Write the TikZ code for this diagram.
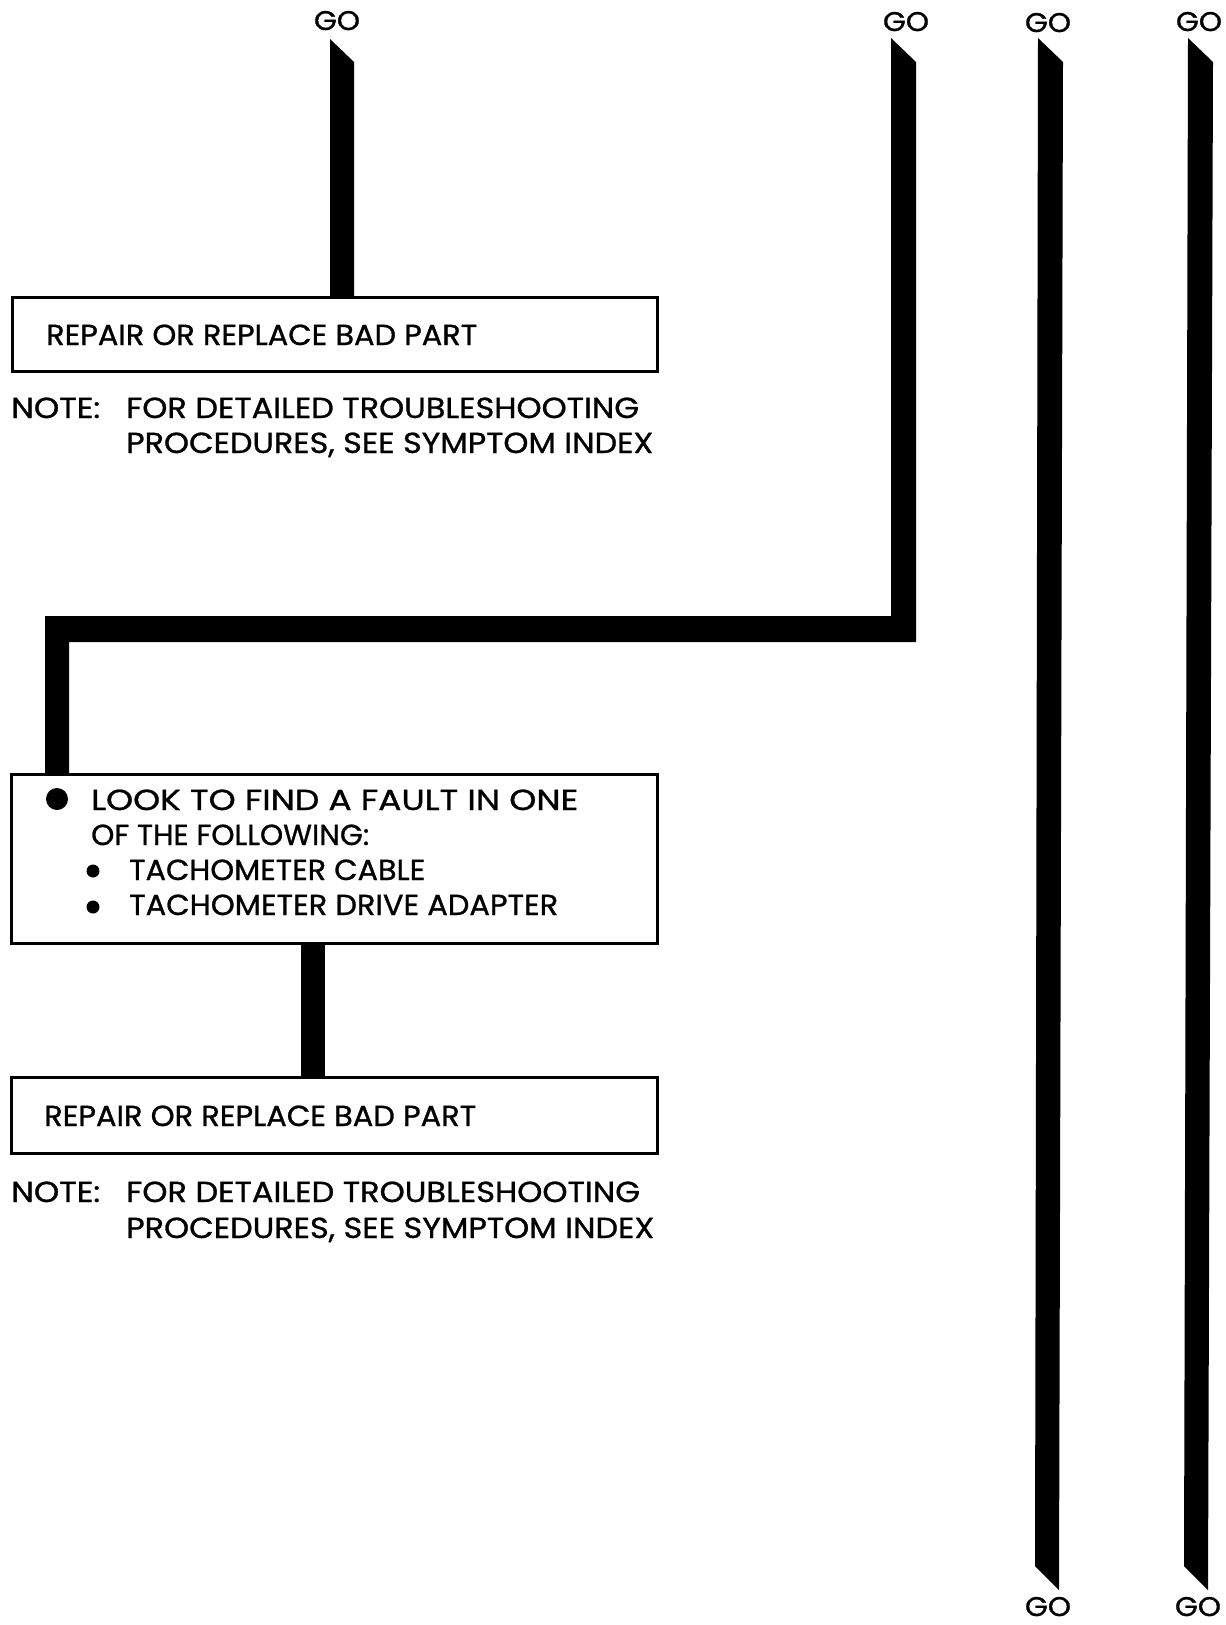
\documentclass[tikz,border=0pt]{standalone}
\usepackage{graphicx}
\usepackage{fontspec}
\setmainfont{Poppins}[FakeBold=0.9]
\newcommand{\fitw}[2]{\resizebox{#1}{\height}{#2}}
\begin{document}
\begin{tikzpicture}[x=1pt,y=-1pt,
  box/.style={draw, line width=2.8pt, inner sep=0pt, anchor=north west},
  txt/.style={anchor=base west, inner sep=0pt, font=\fontsize{29}{31}\selectfont},
  golab/.style={anchor=base, inner sep=0pt, font=\fontsize{27}{29}\selectfont},
  bar/.style={fill=black}]
\useasboundingbox (0,0) rectangle (1226,1625);
% GO labels
\node[golab] (go1) at (337,30) {\fitw{46pt}{GO}};
\node[golab] (go2) at (906,31) {\fitw{46pt}{GO}};
\node[golab] (go3) at (1048,32) {\fitw{46pt}{GO}};
\node[golab] (go4) at (1199,31) {\fitw{46pt}{GO}};
\node[golab] (go5) at (1048,1616) {\fitw{46pt}{GO}};
\node[golab] (go6) at (1198,1616) {\fitw{46pt}{GO}};
% boxes
\node[box, minimum width=645pt, minimum height=74pt] (b1) at (11,296) {};
\node[box, minimum width=646pt, minimum height=169pt] (b2) at (10,773) {};
\node[box, minimum width=646pt, minimum height=76pt] (b3) at (10,1076) {};
% box texts
\node[txt] (t1) at (46,345) {\fitw{431pt}{REPAIR OR REPLACE BAD PART}};
\node[txt] (n1a) at (11,418) {\fitw{89pt}{NOTE:}};
\node[txt] (n1b) at (126,418) {\fitw{513pt}{FOR DETAILED TROUBLESHOOTING}};
\node[txt] (n1c) at (126,453) {\fitw{527pt}{PROCEDURES, SEE SYMPTOM INDEX}};
\fill (57,799) circle (11);
\node[txt] (t2a) at (91,810) {\fitw{487pt}{LOOK TO FIND A FAULT IN ONE}};
\node[txt] (t2b) at (91,845) {\fitw{278pt}{OF THE FOLLOWING:}};
\fill (93,871) circle (6.5);
\node[txt] (t2c) at (129,880) {\fitw{296pt}{TACHOMETER CABLE}};
\fill (93,907) circle (6.5);
\node[txt] (t2d) at (129,915) {\fitw{429pt}{TACHOMETER DRIVE ADAPTER}};
\node[txt] (t3) at (44,1126) {\fitw{432pt}{REPAIR OR REPLACE BAD PART}};
\node[txt] (n2a) at (11,1202) {\fitw{89pt}{NOTE:}};
\node[txt] (n2b) at (126,1202) {\fitw{514pt}{FOR DETAILED TROUBLESHOOTING}};
\node[txt] (n2c) at (126,1238) {\fitw{528pt}{PROCEDURES, SEE SYMPTOM INDEX}};
% bars
\fill[bar] (330,39) -- (354,62) -- (354,296) -- (330,296) -- cycle;
\fill[bar] (891,38) -- (916,62) -- (916,642) -- (69,642) -- (69,773) -- (45,773) -- (45,616) -- (891,616) -- cycle;
\fill[bar] (301,942) rectangle (325,1076);
\fill[bar] (1038,38) -- (1063,62) -- (1059,1590) -- (1035,1566) -- cycle;
\fill[bar] (1188,38) -- (1213,62) -- (1208,1590) -- (1184,1566) -- cycle;
\end{tikzpicture}
\end{document}
